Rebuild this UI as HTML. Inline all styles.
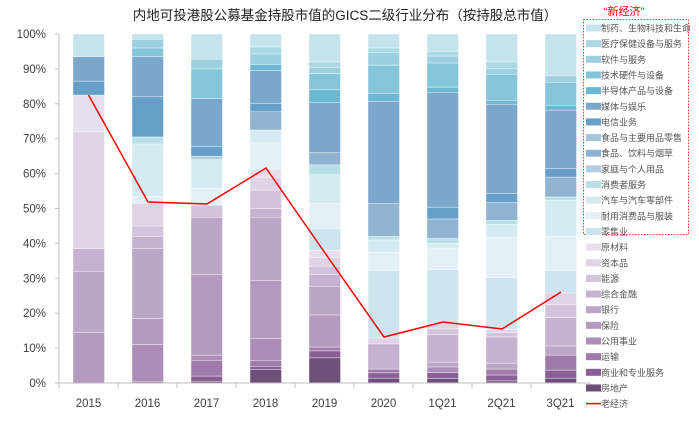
<!DOCTYPE html>
<html><head><meta charset="utf-8"><style>
body{margin:0;background:#fff;}
svg{display:block;font-family:"Liberation Sans","Noto Sans CJK SC",sans-serif;}
</style></head><body>
<svg id="s" width="699" height="431" viewBox="0 0 699 431" xmlns="http://www.w3.org/2000/svg">
<text x="345" y="20" text-anchor="middle" font-size="13.5" fill="#222">内地可投港股公募基金持股市值的GICS二级行业分布（按持股总市值）</text>
<g id="grid"></g>
<g id="bars"></g>
<line x1="59" y1="34" x2="59" y2="383" stroke="#bfbfbf" stroke-width="1"/>
<line x1="59" y1="383" x2="590" y2="383" stroke="#bfbfbf" stroke-width="1"/>
<g id="ax" font-size="11.5" fill="#404040"></g>
<polyline points="88.5,95 148,202 207,204 266,168 325,253 384,337 443,322 502,329 561,292" fill="none" stroke="#ff0000" stroke-width="1.5"/>
<text x="624" y="15" text-anchor="middle" font-size="11" fill="#ff0000">“新经济”</text>
<rect x="583.5" y="19.5" width="105" height="215" fill="none" stroke="#ff0000" stroke-width="0.8" stroke-dasharray="1.5,1.5"/>
<g id="leg" font-size="9" fill="#555"></g>
</svg>
<script>
var NS="http://www.w3.org/2000/svg";
function el(p,t,a,txt){var e=document.createElementNS(NS,t);for(var k in a)e.setAttribute(k,a[k]);if(txt)e.textContent=txt;p.appendChild(e);return e;}
function Y(p){return 383-3.49*p;}
var ax=document.getElementById('ax');
for(var i=0;i<=10;i++){var y=Y(i*10);el(ax,'text',{x:46,y:y+4,'text-anchor':'end'},(i*10)+'%');el(ax,'line',{x1:55,y1:y,x2:59,y2:y,stroke:'#bfbfbf'});}
var cats=['2015','2016','2017','2018','2019','2020','1Q21','2Q21','3Q21'];
for(var i=0;i<9;i++){var cx=88.5+59*i;el(ax,'text',{x:cx,y:407,'text-anchor':'middle'},cats[i]);el(ax,'line',{x1:59+59*i,y1:383,x2:59+59*i,y2:388,stroke:'#bfbfbf'});}
el(ax,'line',{x1:590,y1:383,x2:590,y2:388,stroke:'#bfbfbf'});
var B=[
[[14.5,'#b49abf'],[32,'#bca6c8'],[38.5,'#c6b1d0'],[72,'#e0d3e6'],[82.5,'#e8dfee'],[86.5,'#66a0c8'],[93.5,'#7aa7cb'],[100,'#c5e3ec']],
[[0.5,'#a07aab'],[11,'#ad8db7'],[18.5,'#b49abf'],[38.5,'#bca6c8'],[42,'#c6b1d0'],[45,'#d4c3dc'],[51.5,'#e0d3e6'],[53.5,'#e3f0f6'],[68.5,'#d5ebf2'],[70.5,'#b8dfe8'],[82,'#66a0c8'],[93.5,'#7aa7cb'],[96,'#85c5da'],[98.5,'#9ccfe0'],[100,'#c5e3ec']],
[[0.5,'#6e4f7a'],[2,'#8a5f96'],[6.5,'#a07aab'],[8,'#ad8db7'],[31,'#b49abf'],[47.5,'#bca6c8'],[51,'#d4c3dc'],[55.8,'#e3f0f6'],[64,'#d5ebf2'],[65,'#b5cde0'],[67.8,'#66a0c8'],[81.5,'#7aa7cb'],[90,'#85c5da'],[92.8,'#9ccfe0'],[100,'#c5e3ec']],
[[3.8,'#6e4f7a'],[4.8,'#8a5f96'],[6.5,'#a07aab'],[12.7,'#ad8db7'],[29.3,'#b49abf'],[47.5,'#bca6c8'],[50,'#c6b1d0'],[55.3,'#d4c3dc'],[59,'#e0d3e6'],[61.3,'#e8dfee'],[68.8,'#e3f0f6'],[72.5,'#d5ebf2'],[77.7,'#8fb3d0'],[80,'#66a0c8'],[89.5,'#7aa7cb'],[91.3,'#6bb8d3'],[94.3,'#9ccfe0'],[96.3,'#acd7e5'],[100,'#c5e3ec']],
[[7.2,'#6e4f7a'],[9.2,'#8a5f96'],[10.3,'#a07aab'],[19.5,'#b49abf'],[27.7,'#bca6c8'],[31,'#c6b1d0'],[33.5,'#d4c3dc'],[36,'#e0d3e6'],[38,'#e8dfee'],[44.3,'#cde5ee'],[51.5,'#e3f0f6'],[59.7,'#d5ebf2'],[62.5,'#b8dfe8'],[66,'#8fb3d0'],[80.3,'#7aa7cb'],[84,'#6bb8d3'],[88.7,'#85c5da'],[90.5,'#9ccfe0'],[92,'#acd7e5'],[100,'#c5e3ec']],
[[1.4,'#6e4f7a'],[2.9,'#8a5f96'],[4,'#a07aab'],[11.2,'#c6b1d0'],[12.9,'#e0d3e6'],[32.2,'#cde5ee'],[37.4,'#e3f0f6'],[41,'#d5ebf2'],[42,'#b8dfe8'],[51.5,'#8fb3d0'],[80.7,'#7aa7cb'],[83,'#6bb8d3'],[91.1,'#85c5da'],[94.8,'#9ccfe0'],[96,'#acd7e5'],[100,'#c5e3ec']],
[[1.3,'#6e4f7a'],[3,'#8a5f96'],[4.6,'#ad8db7'],[6,'#bca6c8'],[13.8,'#c6b1d0'],[15.5,'#d4c3dc'],[17.2,'#e0d3e6'],[32.5,'#cde5ee'],[38.5,'#e3f0f6'],[40,'#d5ebf2'],[41.4,'#b8dfe8'],[47,'#8fb3d0'],[50.4,'#66a0c8'],[83.3,'#7aa7cb'],[84.8,'#6bb8d3'],[91.7,'#85c5da'],[93.7,'#9ccfe0'],[95.1,'#acd7e5'],[100,'#c5e3ec']],
[[0.6,'#6e4f7a'],[2.3,'#8a5f96'],[4,'#a07aab'],[5.7,'#bca6c8'],[13.2,'#c6b1d0'],[14.4,'#d4c3dc'],[15.3,'#e0d3e6'],[30.2,'#cde5ee'],[41.7,'#e3f0f6'],[45.4,'#d5ebf2'],[46.6,'#b8dfe8'],[51.7,'#8fb3d0'],[54.3,'#66a0c8'],[79.9,'#7aa7cb'],[81,'#6bb8d3'],[88.5,'#85c5da'],[90.2,'#9ccfe0'],[92,'#acd7e5'],[100,'#c5e3ec']],
[[1.4,'#6e4f7a'],[3.7,'#8a5f96'],[8,'#a07aab'],[10.6,'#bca6c8'],[18.7,'#c6b1d0'],[22.4,'#d4c3dc'],[25.8,'#e0d3e6'],[32.2,'#cde5ee'],[42,'#e3f0f6'],[52.3,'#d5ebf2'],[53.3,'#b8dfe8'],[59,'#8fb3d0'],[61.5,'#66a0c8'],[78.2,'#7aa7cb'],[79.6,'#6bb8d3'],[86.2,'#85c5da'],[88,'#9ccfe0'],[100,'#c5e3ec']]
];
var bg=document.getElementById('bars');
for(var i=0;i<9;i++){var x=73+59*i,prev=0;B[i].forEach(function(s){el(bg,'rect',{x:x,y:Y(s[0]),width:31.5,height:Y(prev)-Y(s[0]),fill:s[1],stroke:'#fff','stroke-width':0.4});prev=s[0];});}
var L=[['制药、生物科技和生命','#c5e3ec'],['医疗保健设备与服务','#acd7e5'],['软件与服务','#9ccfe0'],['技术硬件与设备','#85c5da'],['半导体产品与设备','#6bb8d3'],['媒体与娱乐','#7aa7cb'],['电信业务','#66a0c8'],['食品与主要用品零售','#a5c4dc'],['食品、饮料与烟草','#8fb3d0'],['家庭与个人用品','#b5cde0'],['消费者服务','#b8dfe8'],['汽车与汽车零部件','#d5ebf2'],['耐用消费品与服装','#e3f0f6'],['零售业','#cde5ee'],['原材料','#e8dfee'],['资本品','#e0d3e6'],['能源','#d4c3dc'],['综合金融','#c6b1d0'],['银行','#bca6c8'],['保险','#b49abf'],['公用事业','#ad8db7'],['运输','#a07aab'],['商业和专业服务','#8a5f96'],['房地产','#6e4f7a']];
var lg=document.getElementById('leg');
L.forEach(function(l,i){var y=28+15.65*i;el(lg,'rect',{x:586,y:y-3.5,width:15,height:7,fill:l[1]});el(lg,'text',{x:601,y:y+3.5},l[0]);});
var yy=28+15.65*24;el(lg,'line',{x1:586,y1:yy,x2:601,y2:yy,stroke:'#ff0000','stroke-width':1.5});el(lg,'text',{x:601,y:yy+3.5},'老经济');
</script>
</body></html>
